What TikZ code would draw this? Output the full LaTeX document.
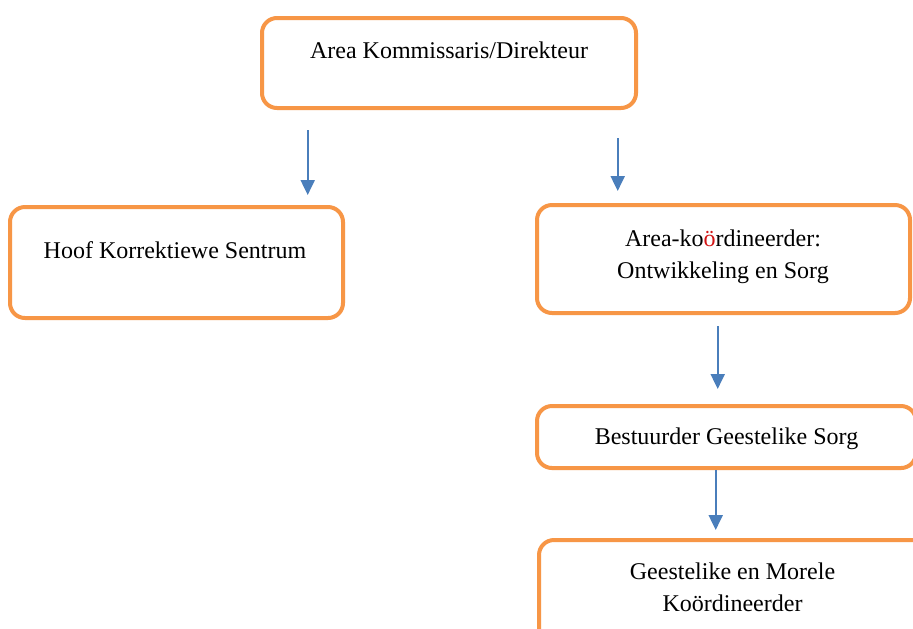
\documentclass[tikz,border=0pt]{standalone}
\usepackage{fontspec}
\setmainfont{Liberation Serif}
\usetikzlibrary{arrows.meta}
\definecolor{boxorange}{RGB}{247,150,70}
\definecolor{arrowblue}{RGB}{74,126,187}
\definecolor{redo}{RGB}{210,20,20}
\tikzset{
  orgbox/.style={draw=boxorange, line width=2pt, rounded corners=7.5pt, fill=white, inner sep=0pt},
  lbl/.style={inner sep=0pt, anchor=base, align=center, font=\fontsize{12}{15.8}\selectfont},
  arr/.style={draw=arrowblue, line width=1pt, -{Triangle[width=7pt,length=7.5pt]}, arrowblue}
}
\begin{document}
\begin{tikzpicture}[x=0.5pt,y=-0.5pt]
\useasboundingbox (0,0) rectangle (913,628);
\clip (0,0) rectangle (913,628);
\fill[white] (0,0) rectangle (913,628);
% boxes
\node[orgbox, minimum width=187pt, minimum height=45pt] (b1) at (449,63) {};
\node[orgbox, minimum width=166.5pt, minimum height=55.5pt] (b2) at (176.5,262.5) {};
\node[orgbox, minimum width=186.5pt, minimum height=54pt] (b3) at (723.5,259) {};
\node[orgbox, minimum width=189.5pt, minimum height=31pt] (b4) at (726.5,437) {};
\node[orgbox, minimum width=193.5pt, minimum height=55pt] (b5) at (732.5,595) {};
% texts (anchor=base is the baseline of the last line)
\node[lbl] (t1) at (449,58.5) {Area Kommissaris/Direkteur};
\node[lbl] (t2) at (175,258) {Hoof Korrektiewe Sentrum};
\node[lbl] (t3) at (723,278) {Area-ko\textcolor{redo}{ö}rdineerder:\\Ontwikkeling en Sorg};
\node[lbl] (t4) at (726.5,444.5) {Bestuurder Geestelike Sorg};
\node[lbl] (t5) at (732.5,611) {Geestelike en Morele\\Koördineerder};
% arrow endpoints
\coordinate (a1s) at (307.7,130);
\coordinate (a1e) at (307.7,195);
\coordinate (a2s) at (617.7,138);
\coordinate (a2e) at (617.7,191);
\coordinate (a3s) at (717.7,326);
\coordinate (a3e) at (717.7,389);
\coordinate (a4s) at (715.7,470);
\coordinate (a4e) at (715.7,530);
\draw[arr] (a1s) -- (a1e);
\draw[arr] (a2s) -- (a2e);
\draw[arr] (a3s) -- (a3e);
\draw[arr] (a4s) -- (a4e);
\end{tikzpicture}
\end{document}
